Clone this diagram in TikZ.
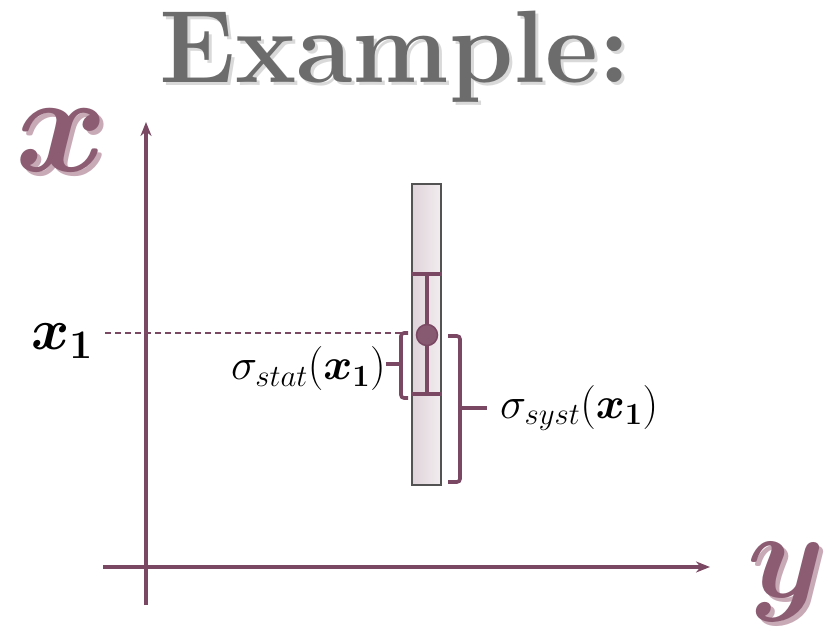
\documentclass[tikz,border=0pt]{standalone}
\usepackage{fix-cm}
\usepackage{amsmath,amssymb,bm}
\usepackage{xcolor}
\usetikzlibrary{positioning,arrows.meta}

\definecolor{mauve}{HTML}{7A4862}
\definecolor{mauvelt}{HTML}{8C5D72}
\definecolor{mauvesh}{HTML}{C8A9B6}

\begin{document}
\begin{tikzpicture}[
  x=1pt, y=-1pt,
  axis/.style={mauve, line width=3.6pt, -{Stealth[length=14pt,width=11pt]}},
  brk/.style={mauve, line width=3.6pt, rounded corners=3pt},
  bar/.style={mauve, line width=3.6pt},
  lbl/.style={inner sep=0pt, font=\fontsize{44}{46}\selectfont},
  axlbl/.style={inner sep=0pt, font=\fontsize{#1}{#1}\selectfont},
  axlbl/.default=140
]
  \path[use as bounding box] (0,0) rectangle (825,639);

  % title
  \node[anchor=base, text=gray!30, font=\fontsize{103}{103}\selectfont\bfseries] at (398,86) {Example:};
  \node[anchor=base, text=gray!85!black, font=\fontsize{103}{103}\selectfont\bfseries] (title) at (395,83) {Example:};

  % axes
  \coordinate (vbot) at (146,605);
  \coordinate (vtop) at (146,122);
  \coordinate (hleft) at (103,567);
  \coordinate (hright) at (710,567);
  \draw[axis] (vbot) -- (vtop);
  \draw[axis] (hleft) -- (hright);

  \node[axlbl, text=mauvesh] at (66,144) {$\bm{x}$};
  \node[axlbl, text=mauvelt] (xlab) at (62,140) {$\bm{x}$};
  \node[axlbl=124, text=mauvesh] at (790,586) {$\bm{y}$};
  \node[axlbl=124, text=mauvelt] (ylab) at (786,582) {$\bm{y}$};

  % measurement band
  \node[draw=gray!65!black, line width=2.4pt, minimum width=29pt, minimum height=301pt,
        inner sep=0pt, left color=mauve!24, right color=mauve!10] (band) at (426.5,334.5) {};

  \coordinate (etop) at (427,274);
  \coordinate (ebot) at (427,394);
  \draw[bar] (etop) -- (ebot);
  \draw[bar] (band.west |- etop) -- (band.east |- etop);
  \draw[bar] (band.west |- ebot) -- (band.east |- ebot);
  \node[circle, fill=mauve!90, draw=mauve, line width=1.5pt, minimum size=21pt, inner sep=0pt] (pt) at (427,335) {};

  % value on the axis
  \node[inner sep=0pt, font=\fontsize{58}{60}\selectfont] (xone) at (62,341) {$\bm{x}_{\bm{1}}$};

  % statistical bracket
  \coordinate (stattop) at (401,333);
  \draw[brk] (408,333) -- (stattop) -- (401,398) -- (408,398);
  \coordinate (stattick) at (386,364);
  \draw[brk] (401,364) -- (stattick);
  \node[lbl, anchor=east] (stat) at (386,369) {$\sigma_{stat}(\bm{x}_{\bm{1}})$};

  \coordinate (dleft) at (105,333);
  \draw[mauve, line width=1.2pt, dash pattern=on 6pt off 4pt] (dleft) -- (stattop);

  % systematic bracket
  \draw[brk] (448,336) -- (460,336) -- (460,482) -- (448,482);
  \coordinate (systtick) at (487,408);
  \draw[brk] (460,408) -- (systtick);
  \node[lbl, right=13pt of systtick] (syst) {$\sigma_{syst}(\bm{x}_{\bm{1}})$};
\end{tikzpicture}
\end{document}
